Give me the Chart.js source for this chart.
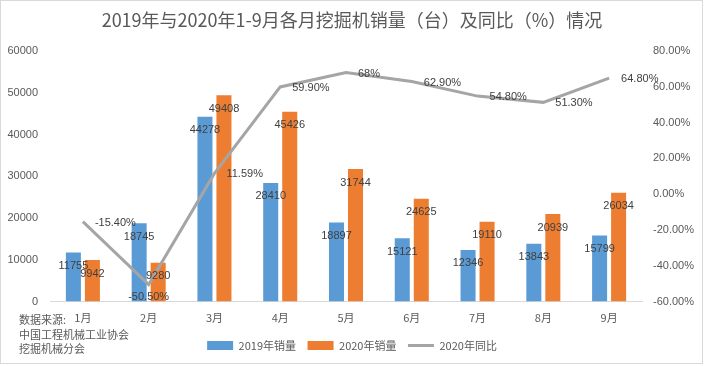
<!DOCTYPE html>
<html><head><meta charset="utf-8">
<script src="https://cdn.jsdelivr.net/npm/chart.js@4"></script>
<style>html,body{margin:0;padding:0;background:#fff;}</style>
</head><body>
<canvas id="c" width="704" height="366"></canvas>
<script>
const categories = ['1月','2月','3月','4月','5月','6月','7月','8月','9月'];
const sales2019 = [11755, 18745, 44278, 28410, 18897, 15121, 12346, 13843, 15799];
const sales2020 = [9942, 9280, 49408, 45426, 31744, 24625, 19110, 20939, 26034];
const yoy2020 = [-15.4, -50.5, 11.59, 59.9, 68, 62.9, 54.8, 51.3, 64.8];
const yoyLabels = ['-15.40%','-50.50%','11.59%','59.90%','68%','62.90%','54.80%','51.30%','64.80%'];
const seriesNames = ['2019年销量','2020年销量','2020年同比'];
const titleText = '2019年与2020年1-9月各月挖掘机销量（台）及同比（%）情况';
const sourceLines = ['数据来源:','中国工程机械工业协会','挖掘机械分会'];

const FONT = "'Liberation Sans','Noto Sans CJK SC',sans-serif";
const CJK = "'Noto Sans CJK SC','Liberation Sans',sans-serif";
const GREY = '#595959';

const extras = {
  id: 'extras',
  beforeDraw(chart) {
    const ctx = chart.ctx;
    ctx.save();
    ctx.fillStyle = '#fff';
    ctx.fillRect(0, 0, chart.width, chart.height);
    ctx.restore();
  },
  afterDatasetsDraw(chart) {
    const ctx = chart.ctx;
    ctx.save();
    ctx.font = '11px ' + FONT;
    ctx.fillStyle = '#404040';
    [0, 1].forEach(di => {
      const meta = chart.getDatasetMeta(di);
      meta.data.forEach((el, i) => {
        ctx.textAlign = 'center';
        ctx.textBaseline = 'middle';
        ctx.fillText(String(chart.data.datasets[di].data[i]), el.x, el.y + 13.5);
      });
    });
    const lm = chart.getDatasetMeta(2);
    lm.data.forEach((el, i) => {
      if (i === 1) {
        ctx.textAlign = 'center';
        ctx.textBaseline = 'middle';
        ctx.fillText(yoyLabels[i], el.x, el.y + 12);
      } else {
        ctx.textAlign = 'left';
        ctx.textBaseline = 'middle';
        ctx.fillText(yoyLabels[i], el.x + 12, el.y + 1);
      }
    });
    ctx.restore();
  },
  afterDraw(chart) {
    const ctx = chart.ctx;
    ctx.save();
    ctx.font = '11px ' + CJK;
    ctx.fillStyle = GREY;
    ctx.textAlign = 'left';
    ctx.textBaseline = 'middle';
    const ys = [320, 335, 349];
    sourceLines.forEach((t, i) => ctx.fillText(t, 19, ys[i]));
    ctx.strokeStyle = '#d9d9d9';
    ctx.lineWidth = 1;
    ctx.strokeRect(0.5, 0.5, 702, 363);
    ctx.restore();
  }
};

new Chart(document.getElementById('c'), {
  data: {
    labels: categories,
    datasets: [
      { type: 'bar', label: seriesNames[0], data: sales2019, backgroundColor: '#5b9bd5', yAxisID: 'y', order: 2,
        categoryPercentage: 0.578, barPercentage: 0.79, pointStyle: 'rect', borderWidth: 0 },
      { type: 'bar', label: seriesNames[1], data: sales2020, backgroundColor: '#ed7d31', yAxisID: 'y', order: 2,
        categoryPercentage: 0.578, barPercentage: 0.79, pointStyle: 'rect', borderWidth: 0 },
      { type: 'line', label: seriesNames[2], data: yoy2020, borderColor: '#a5a5a5', backgroundColor: '#a5a5a5',
        borderWidth: 3, pointRadius: 0, tension: 0, yAxisID: 'y1', order: 0, pointStyle: 'line', fill: false }
    ]
  },
  options: {
    responsive: false,
    animation: false,
    devicePixelRatio: 1,
    layout: { padding: { left: 0, right: 0, top: 0, bottom: 5 } },
    plugins: {
      title: { display: true, text: titleText, color: GREY,
        font: { family: CJK, size: 18, weight: 'normal' }, padding: { top: 9, bottom: 20.4 } },
      legend: { position: 'bottom',
        labels: { usePointStyle: true, pointStyleWidth: 26, boxHeight: 9, padding: 11.5, color: GREY,
          font: { family: CJK, size: 11 }, sort: (a, b) => a.datasetIndex - b.datasetIndex } },
      tooltip: { enabled: false }
    },
    scales: {
      x: { grid: { display: false, drawTicks: false }, border: { display: true, color: '#d9d9d9', width: 1 },
        ticks: { color: GREY, padding: 10, font: { family: CJK, size: 11 } },
        afterFit: s => { s.height = 27; } },
      y: { position: 'left', min: 0, max: 60000, grid: { display: false, drawTicks: false }, border: { display: false },
        ticks: { stepSize: 10000, color: GREY, padding: 12, font: { family: FONT, size: 11 }, callback: v => String(v) },
        afterFit: s => { s.width = 50; } },
      y1: { position: 'right', min: -60, max: 80, grid: { display: false, drawTicks: false }, border: { display: false },
        ticks: { stepSize: 20, color: GREY, padding: 11, font: { family: FONT, size: 11 }, callback: v => v.toFixed(2) + '%' },
        afterFit: s => { s.width = 62; } }
    }
  },
  plugins: [extras]
});
</script>
</body></html>
